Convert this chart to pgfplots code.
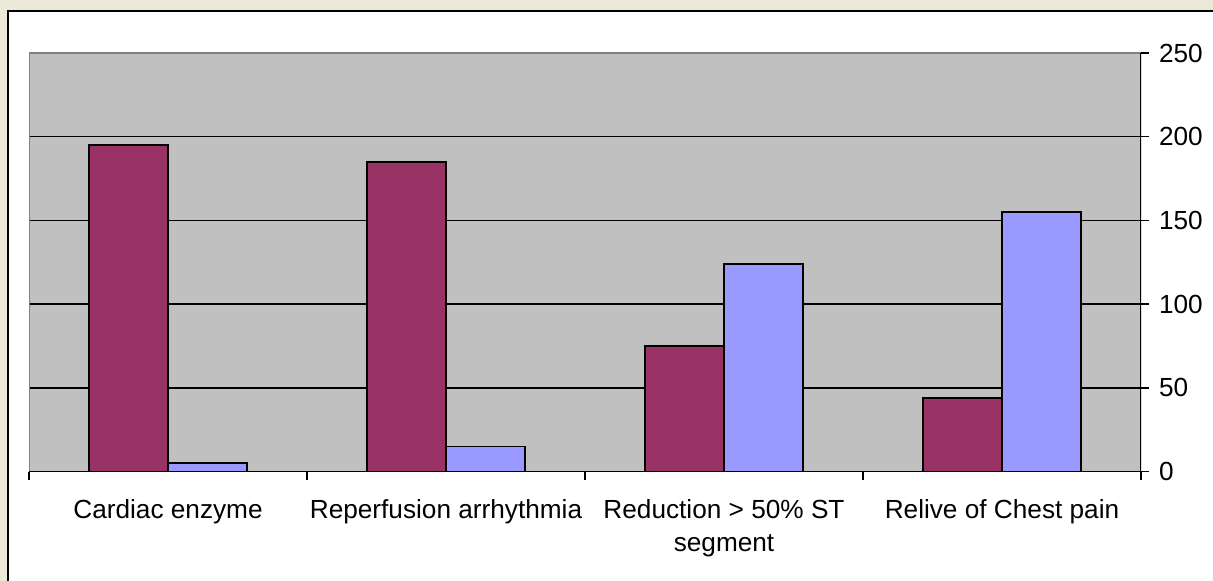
\documentclass[border=0pt]{standalone}
\usepackage{pgfplots}
\pgfplotsset{compat=1.18}
\usepackage{fontspec}
\setmainfont{Liberation Sans}
\definecolor{winbg}{HTML}{ECE9D8}
\definecolor{plotgray}{HTML}{C0C0C0}
\definecolor{bordergray}{HTML}{808080}
\definecolor{maroon}{HTML}{993366}
\definecolor{lilac}{HTML}{9999FF}

\begin{document}
\begin{tikzpicture}[x=1pt,y=1pt]
% window background and chart frame
\fill[winbg] (0,0) rectangle (606.5,-290.5);
\fill[white] (4,-5.5) rectangle (606.5,-290.5);
\draw[black,line width=1pt] (4,-290.5) -- (4,-5.5) -- (606.5,-5.5);
\begin{axis}[
    at={(14.5pt,-235.75pt)}, anchor=south west,
    scale only axis, width=556pt, height=209.25pt,
    xmin=-0.5, xmax=3.5, ymin=0, ymax=250,
    axis background/.style={fill=plotgray},
    axis line style={draw=none},
    tick align=outside, major tick length=4pt,
    tick style={black, line width=0.7pt},
    xtick pos=bottom, ytick pos=right, yticklabel pos=right,
    xtick={-0.5,0.5,1.5,2.5,3.5}, xticklabels={},
    extra x ticks={0,1,2,3},
    extra x tick labels={Cardiac enzyme, Reperfusion arrhythmia, {Reduction > 50\% ST\\segment}, Relive of Chest pain},
    extra x tick style={major tick length=0pt,
        xticklabel style={align=center, anchor=north, yshift=-10.5pt}},
    ytick={0,50,...,250},
    yticklabel style={xshift=1.5pt},
    ymajorgrids, grid style={black, line width=0.8pt},
    ticklabel style={font=\fontsize{13.1}{16.5}\selectfont},
    /pgf/number format/assume math mode=true,
]
% series 1 (maroon)
\addplot[ybar, bar width=0.284, bar shift=-0.142, fill=maroon, draw=black, line width=0.7pt]
    coordinates {(0,195) (1,185) (2,75) (3,44)};
% series 2 (lilac)
\addplot[ybar, bar width=0.284, bar shift=0.142, fill=lilac, draw=black, line width=0.7pt]
    coordinates {(0,5) (1,15) (2,124) (3,155)};
\draw[bordergray, line width=0.7pt] (rel axis cs:0,0) -- (rel axis cs:0,1) -- (rel axis cs:1,1);
\draw[black, line width=0.7pt] (rel axis cs:1,1) -- (rel axis cs:1,0) -- (rel axis cs:0,0);
\end{axis}
\pgfresetboundingbox
\path (0,0) rectangle (606.5,-290.5);
\end{tikzpicture}
\end{document}
